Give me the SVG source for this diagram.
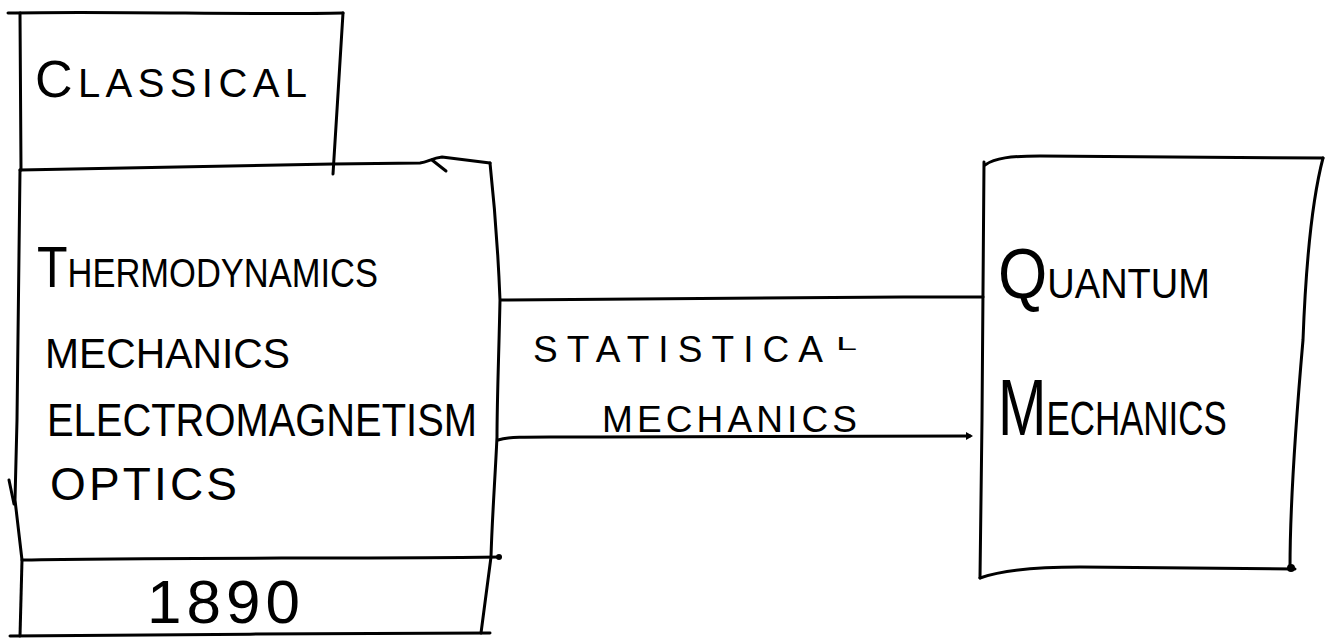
<svg xmlns="http://www.w3.org/2000/svg" width="1325" height="639" viewBox="0 0 1325 639">
  <style>
    .pen { fill: none; stroke: #000; stroke-width: 3; stroke-linecap: round; stroke-linejoin: round; }
    .hand { font-family: "Liberation Sans", "DejaVu Sans", Arial, sans-serif; fill: #000; }
  </style>
  <rect width="1325" height="639" fill="#fff"/>

  <!-- header box -->
  <g id="classical">
    <path class="pen" d="M8,13 C120,11 250,15 343,13"/>
    <path class="pen" d="M20,13 L21,170"/>
    <path class="pen" d="M343,13 L337,110 L333,174"/>
    <text class="hand" x="35" y="97" font-size="40" textLength="272" lengthAdjust="spacing"><tspan font-size="52">C</tspan>LASSICAL</text>
  </g>

  <!-- main subject box -->
  <g id="physics">
    <path class="pen" d="M20,170 L333,164 L420,163 C428,162 432,158 442,157 L490,163"/>
    <path class="pen" d="M432,160 L446,171"/>
    <path class="pen" d="M490,163 C494,200 498,250 500,300 C499,350 497,400 497,437 C495,480 492,520 491,557"/>
    <path class="pen" d="M20,170 L17,420 L15,500 L22,560"/>
    <path class="pen" d="M9,480 L14,504"/>
    <path class="pen" d="M23,560 C150,557 350,559 500,557"/>
    <circle cx="499" cy="557" r="3"/>
    <text class="hand" x="37" y="287" font-size="40" textLength="341" lengthAdjust="spacingAndGlyphs"><tspan font-size="58">T</tspan>HERMODYNAMICS</text>
    <text class="hand" x="45" y="368" font-size="43" textLength="245" lengthAdjust="spacingAndGlyphs">MECHANICS</text>
    <text class="hand" x="47" y="436" font-size="46" textLength="430" lengthAdjust="spacingAndGlyphs">ELECTROMAGNETISM</text>
    <text class="hand" x="50" y="500" font-size="46" textLength="187" lengthAdjust="spacing">OPTICS</text>
  </g>

  <!-- date box -->
  <g id="year">
    <path class="pen" d="M22,560 L20,636"/>
    <path class="pen" d="M10,636 C150,634 350,634 490,633"/>
    <path class="pen" d="M491,557 L481,633"/>
    <text class="hand" x="147" y="623" font-size="62" textLength="153" lengthAdjust="spacing">1890</text>
  </g>

  <!-- quantum box -->
  <g id="quantum">
    <path class="pen" d="M985,165 C995,158 1010,156 1040,156 L1323,158"/>
    <path class="pen" d="M1323,158 C1312,200 1306,260 1303,340 C1296,420 1290,500 1290,568"/>
    <path class="pen" d="M980,578 C1000,571 1030,567 1080,567 L1295,569"/>
    <circle cx="1291" cy="568" r="4"/>
    <path class="pen" d="M984,162 L982,420 L980,578"/>
    <text class="hand" x="998" y="298" font-size="42" textLength="212" lengthAdjust="spacingAndGlyphs"><tspan font-size="70">Q</tspan>UANTUM</text>
    <text class="hand" transform="translate(998,435) scale(0.727,1)" font-size="48"><tspan font-size="80">M</tspan>ECHANICS</text>
  </g>

  <!-- links between the boxes -->
  <g id="connectors">
    <path class="pen" d="M501,300 C600,298 800,297 983,297"/>
    <path class="pen" d="M498,440 C510,436 530,437 600,437 L970,436"/>
    <path d="M966,432 L973,436 L966,440 Z" fill="#000"/>
    <text class="hand" x="533" y="362" font-size="37" textLength="290" lengthAdjust="spacing">STATISTICA</text>
    <text class="hand" x="836" y="350" font-size="18" textLength="21" lengthAdjust="spacingAndGlyphs">L</text>
    <text class="hand" x="602" y="432" font-size="37" textLength="255" lengthAdjust="spacing">MECHANICS</text>
  </g>
</svg>
